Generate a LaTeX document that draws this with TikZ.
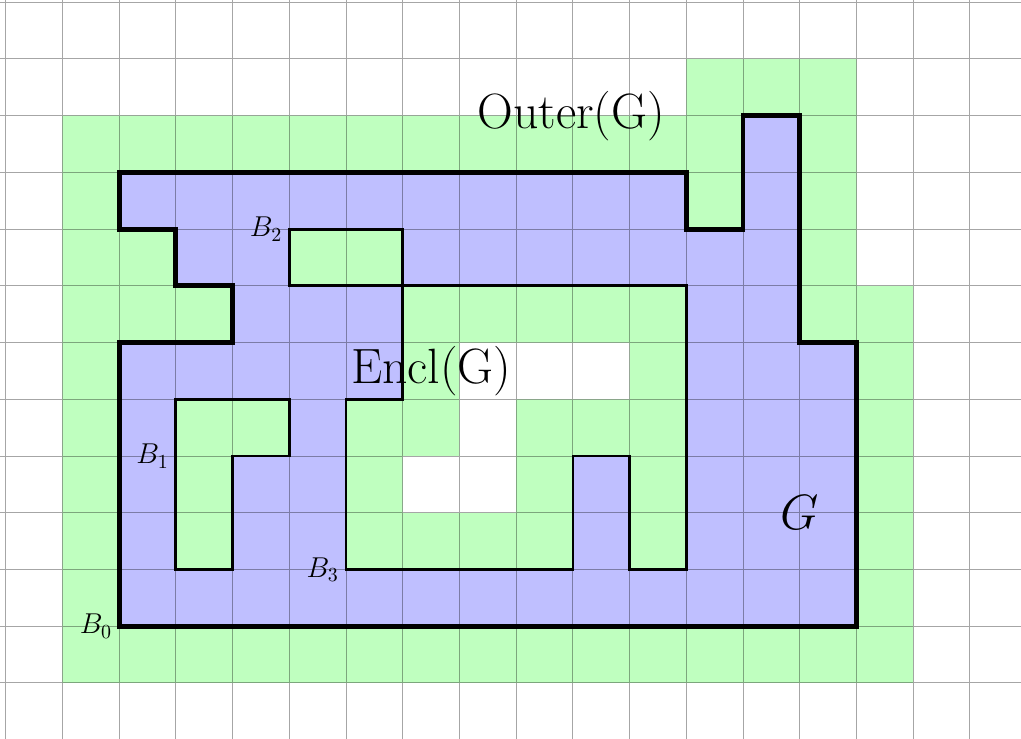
\documentclass[tikz,border=0pt]{standalone}
\definecolor{cellgreen}{rgb}{0.75,1,0.75}
\definecolor{cellblue}{rgb}{0.75,0.75,1}
\tikzset{
  gridline/.style={draw=black, opacity=0.35, line width=0.5pt},
  boundary/.style={draw=black, line width=2.4pt},
  holeline/.style={draw=black, line width=1.4pt},
  blabel/.style={left, font=\Large},
  biglabel/.style={font=\Huge},
}
\begin{document}
\begin{tikzpicture}
\path[use as bounding box] (-2.1,-1.98) rectangle (15.9,11.04);

% Outer(G): the cells around the graph
\fill[cellgreen] (-1,-1) -- (14,-1) -- (14,6) -- (13,6) -- (13,10) -- (10,10)
  -- (10,9) -- (-1,9) -- cycle;

% the grid graph G
\fill[cellblue] (0,0) -- (13,0) -- (13,5) -- (12,5) -- (12,9) -- (11,9) -- (11,7)
  -- (10,7) -- (10,8) -- (0,8) -- (0,7) -- (1,7) -- (1,6) -- (2,6) -- (2,5)
  -- (0,5) -- cycle;

% enclosed holes
\fill[cellgreen] (1,1) -- (2,1) -- (2,3) -- (3,3) -- (3,4) -- (1,4) -- cycle;
\fill[cellgreen] (3,6) -- (5,6) -- (5,7) -- (3,7) -- cycle;
\fill[cellgreen] (4,1) -- (8,1) -- (8,3) -- (9,3) -- (9,1) -- (10,1) -- (10,6)
  -- (5,6) -- (5,4) -- (4,4) -- cycle;

% cells of the hole not in Encl(G)
\fill[white] (6,5) -- (9,5) -- (9,4) -- (7,4) -- (7,2) -- (5,2) -- (5,3)
  -- (6,3) -- cycle;

% unit grid
\draw[gridline] (-2.1,-1.98) grid (15.9,11.04);

% outer boundary of G
\draw[boundary] (0,0) -- (13,0) -- (13,5) -- (12,5) -- (12,9) -- (11,9) -- (11,7)
  -- (10,7) -- (10,8) -- (0,8) -- (0,7) -- (1,7) -- (1,6) -- (2,6) -- (2,5)
  -- (0,5) -- cycle;

% boundaries of the holes
\draw[holeline] (1,1) -- (2,1) -- (2,3) -- (3,3) -- (3,4) -- (1,4) -- cycle;
\draw[holeline] (3,6) -- (5,6) -- (5,7) -- (3,7) -- cycle;
\draw[holeline] (4,1) -- (8,1) -- (8,3) -- (9,3) -- (9,1) -- (10,1) -- (10,6)
  -- (5,6) -- (5,4) -- (4,4) -- cycle;

% labels
\node[blabel] (b0) at (0,0) {$B_0$};
\node[blabel] (b1) at (1,3) {$B_1$};
\node[blabel] (b2) at (3,7) {$B_2$};
\node[blabel] (b3) at (4,1) {$B_3$};
\node[biglabel] (outer) at (7.97,9) {Outer(G)};
\node[biglabel] (encl) at (5.5,4.5) {Encl(G)};
\node[font=\Huge] (g) at (12,2) {$G$};
\end{tikzpicture}
\end{document}
